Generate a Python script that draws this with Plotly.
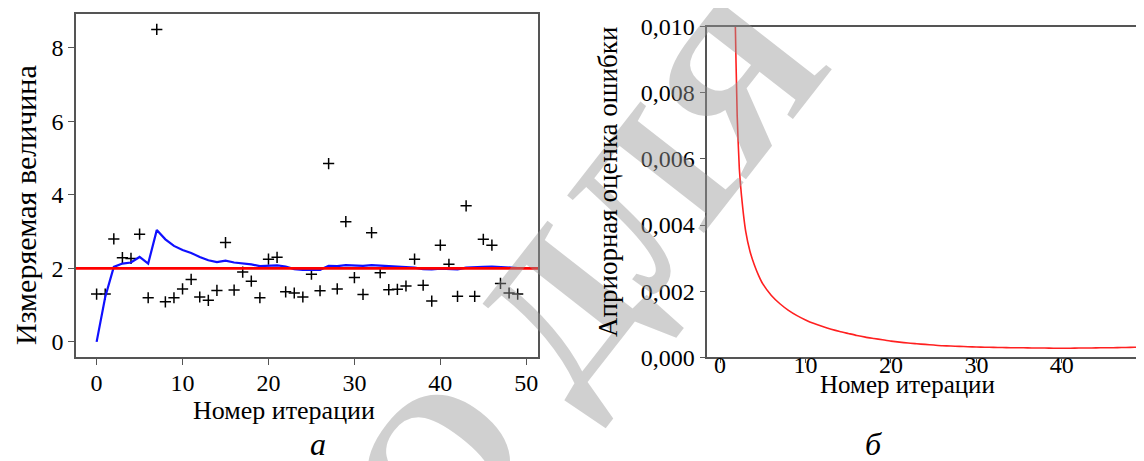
import plotly.graph_objects as go

# ---------------- data ----------------
iterations = list(range(50))
measurements = [1.30, 1.30, 2.80, 2.29, 2.27, 2.93, 1.20, 8.50, 1.09, 1.20,
                1.44, 1.70, 1.22, 1.13, 1.40, 2.70, 1.41, 1.90, 1.65, 1.20,
                2.25, 2.30, 1.36, 1.33, 1.22, 1.84, 1.39, 4.85, 1.44, 3.27,
                1.75, 1.29, 2.97, 1.88, 1.42, 1.43, 1.52, 2.25, 1.54, 1.11,
                2.63, 2.11, 1.24, 3.70, 1.24, 2.79, 2.63, 1.59, 1.33, 1.30]
estimates = [0.00, 1.22, 2.04, 2.13, 2.16, 2.31, 2.13, 3.04, 2.79, 2.61,
             2.50, 2.42, 2.31, 2.22, 2.17, 2.21, 2.16, 2.14, 2.11, 2.06,
             2.07, 2.08, 2.05, 1.98, 1.96, 1.95, 1.96, 2.07, 2.06, 2.09,
             2.07, 2.07, 2.09, 2.08, 2.05, 2.04, 2.03, 2.02, 1.98, 1.97,
             1.99, 1.99, 1.97, 2.02, 2.02, 2.04, 2.05, 2.04, 2.02, 2.01]
true_value = 2.0

prior_x = [1.5, 1.75, 2.0, 2.25, 2.5, 3.0, 3.5, 4.0, 4.5, 5, 6, 7, 8, 9, 10,
           11, 12, 13, 14, 15, 16, 17, 18, 19, 20, 21, 22, 23, 24, 25,
           26, 27, 28, 29, 30, 31, 32, 33, 34, 35, 36, 37, 38, 39, 40,
           41, 42, 43, 44, 45, 46, 47, 48, 49, 50]
prior_err = [0.0180, 0.0105, 0.0073, 0.0057, 0.0049, 0.0038, 0.0032, 0.0028, 0.00248,
             0.00222, 0.00187, 0.00162, 0.00142, 0.00126, 0.00113,
             0.00102, 0.00093, 0.00085, 0.00078, 0.00072, 0.00066, 0.00061, 0.00057,
             0.00053, 0.00049, 0.00046, 0.00043, 0.00041, 0.00039, 0.00037,
             0.00035, 0.00034, 0.00033, 0.00032, 0.00031, 0.000305, 0.00030,
             0.000295, 0.00029, 0.00029, 0.000285, 0.00028, 0.00028, 0.000275,
             0.000275, 0.000275, 0.00028, 0.00028, 0.000285, 0.00029, 0.00029,
             0.000295, 0.0003, 0.000305, 0.00031]

left_yticks = [0, 2, 4, 6, 8]
x_ticks = [0, 10, 20, 30, 40, 50]
right_yticks = [0.000, 0.002, 0.004, 0.006, 0.008, 0.010]

# ---------------- figure ----------------
W, H = 1144, 461
OFF = 8  # page body margin
FONT = "Liberation Serif"
AX = "#555555"

fig = go.Figure()

fig.add_trace(go.Scatter(x=iterations, y=measurements, mode="markers",
                         marker=dict(symbol="cross-thin", size=8,
                                     line=dict(color="black", width=1.5)),
                         xaxis="x", yaxis="y", showlegend=False))
fig.add_trace(go.Scatter(x=iterations, y=estimates, mode="lines",
                         line=dict(color="#1010ff", width=2.2),
                         xaxis="x", yaxis="y", showlegend=False))
fig.add_trace(go.Scatter(x=[-2.4, 51.4], y=[true_value, true_value], mode="lines",
                         line=dict(color="#ff0000", width=2.6),
                         xaxis="x", yaxis="y", showlegend=False))
fig.add_trace(go.Scatter(x=prior_x, y=prior_err, mode="lines",
                         line=dict(color="#ff2020", width=1.6, shape="spline", smoothing=0.5),
                         xaxis="x2", yaxis="y2", showlegend=False))

def px_x(p):
    return min(1.0, max(0.0, (p - OFF) / W))

def px_y(p):
    return min(1.0, max(0.0, 1 - (p - OFF) / H))

tf_left = dict(family=FONT, size=24, color="black")
tf_right = dict(family=FONT, size=24, color="black")

common = dict(ticks="outside", tickcolor=AX, showline=True, linecolor=AX,
              linewidth=1.6, showgrid=False, zeroline=False, automargin=False)

fig.update_layout(
    width=W, height=H,
    margin=dict(l=0, r=0, t=0, b=0, pad=0, autoexpand=False),
    paper_bgcolor="white", plot_bgcolor="white",
    separators=", ",
    showlegend=False,
    xaxis=dict(domain=[px_x(76), px_x(538.3)], range=[-2.4, 51.4], ticklen=6,
               ticklabelstandoff=-3,
               tickvals=x_ticks, mirror=True, tickfont=tf_left, anchor="y", **common),
    yaxis=dict(domain=[px_y(357.3), px_y(14)], range=[-0.42, 8.92], ticklen=6,
               tickvals=left_yticks, mirror=True, tickfont=tf_left, anchor="x", **common),
    xaxis2=dict(domain=[px_x(707.3), 1.0], range=[-1.5, 50.55], ticklen=4,
                ticklabelstandoff=-19,
                tickvals=x_ticks, mirror=True, tickfont=tf_right, anchor="y2", **common),
    yaxis2=dict(domain=[px_y(357.3), px_y(26.7)], range=[0, 0.010], ticklen=6,
                tickvals=right_yticks, tickformat=".3f", tickfont=tf_right,
                anchor="x2", **common),
)

def ann(text, x, y, size, angle=0, italic=False, bold=False, color="black"):
    t = text
    if italic:
        t = f"<i>{t}</i>"
    if bold:
        t = f"<b>{t}</b>"
    fig.add_annotation(text=t,
                       x=(x - OFF) / W, y=1 - (y - OFF) / H, xref="paper", yref="paper",
                       showarrow=False, textangle=angle,
                       xanchor="center", yanchor="middle",
                       font=dict(family=FONT, size=size, color=color))

# watermark (drawn first)
ann("О ДЛЯ", 585, 275, 200, angle=-52, bold=True, color="rgba(150,150,150,0.45)")

ann("Измеряемая величина", 26, 205, 30, angle=-90)
ann("Номер итерации", 284, 410, 26)
ann("Априорная оценка ошибки", 608, 182, 27, angle=-90)
ann("Номер итерации", 907, 384, 25)
ann("а", 318, 444, 32, italic=True)
ann("б", 873, 444, 32, italic=True)

fig.write_html("out.html")
